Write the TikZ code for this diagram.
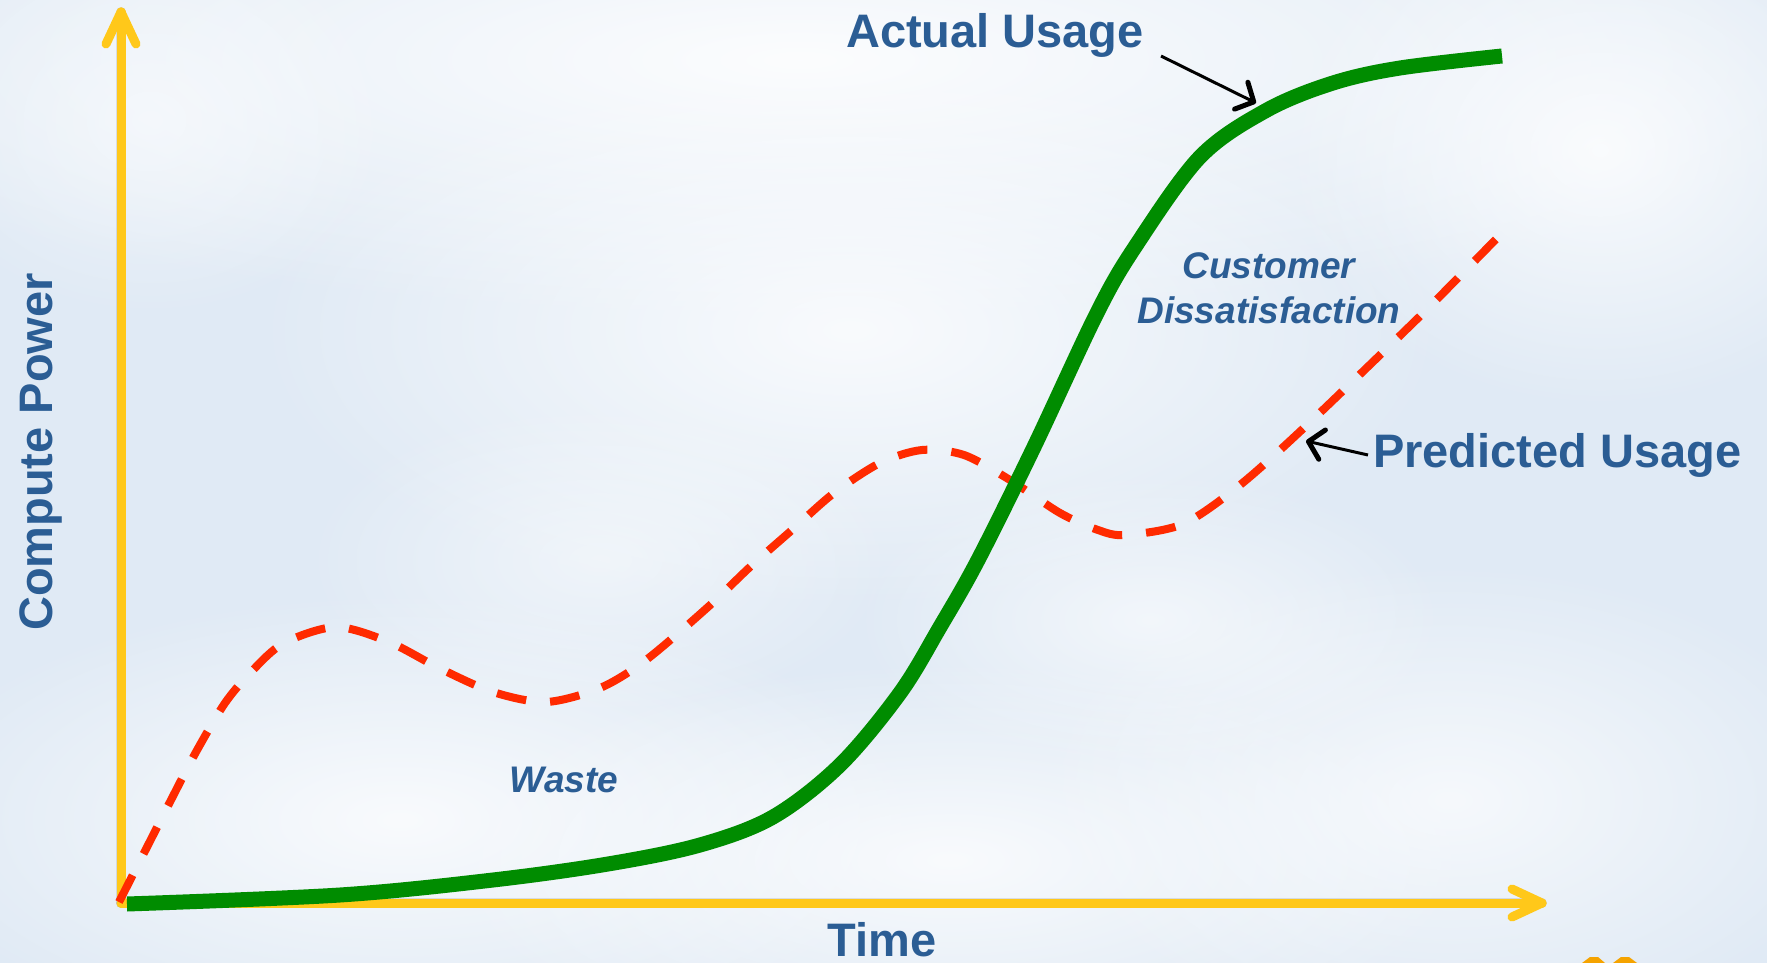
\documentclass[tikz,border=0pt]{standalone}
\usepackage{fontspec}
\setmainfont{Liberation Sans}
\usetikzlibrary{arrows.meta,fadings}
\definecolor{axisyellow}{HTML}{FFC81A}
\definecolor{actgreen}{HTML}{008C00}
\definecolor{predred}{HTML}{FF2A00}
\definecolor{txtblue}{HTML}{2B5D94}
\definecolor{skybg}{HTML}{E0EAF5}
\definecolor{logoorange}{HTML}{F5A300}
\tikzfading[name=cloudfade, inner color=transparent!0, outer color=transparent!100]
\begin{document}
\begin{tikzpicture}[x=1pt,y=-1pt,
  axisline/.style={draw=axisyellow, line width=9pt, line cap=round, line join=round},
  axisshadow/.style={draw=black, opacity=0.10, line width=10pt, line cap=round, line join=round},
  actual/.style={draw=actgreen, line width=15pt},
  predicted/.style={draw=predred, line width=8pt, dash pattern=on 30pt off 24pt},
  lbl/.style={font=\bfseries\fontsize{47}{56}\selectfont, text=txtblue, inner sep=0pt},
  ilbl/.style={font=\bfseries\itshape\fontsize{37}{45}\selectfont, text=txtblue, inner sep=0pt},
  ptr/.style={draw=black, line width=3pt, -{Straight Barb[length=14pt, width=30pt, line width=5pt, round]}},
  cloud/.style={fill=white, path fading=cloudfade}
]
\useasboundingbox (0,0) rectangle (1767,963);
% sky background
\fill[skybg] (0,0) rectangle (1767,963);
\fill[cloud, fill opacity=0.9] (800,60) ellipse (1100 and 260);
\fill[cloud, fill opacity=0.8] (850,330) ellipse (600 and 280);
\fill[cloud, fill opacity=0.8] (400,820) ellipse (520 and 230);
\fill[cloud, fill opacity=0.8] (950,860) ellipse (520 and 200);
\fill[cloud, fill opacity=0.7] (1450,800) ellipse (420 and 240);
\fill[cloud, fill opacity=0.8] (1600,150) ellipse (320 and 260);
\fill[cloud, fill opacity=0.6] (1150,620) ellipse (300 and 150);
\fill[cloud, fill opacity=0.5] (150,120) ellipse (250 and 200);
\fill[cloud, fill opacity=0.5] (600,560) ellipse (300 and 160);

% axes
\coordinate (O) at (121,903);
\coordinate (ytop) at (121,12);
\coordinate (xend) at (1542,903);
\begin{scope}[shift={(3,5)}]
  \draw[axisshadow] (O) -- (ytop);
  \draw[axisshadow] (O) -- (xend);
\end{scope}
\draw[axisline] (O) -- (ytop);
\draw[axisline] ([shift={(-15,32)}]ytop) -- (ytop) -- ([shift={(15,32)}]ytop);
\draw[axisline] (O) -- (xend);
\draw[axisline] ([shift={(-30,-14)}]xend) -- (xend) -- ([shift={(-30,14)}]xend);

% predicted usage (dashed red)
\draw[predicted] plot[smooth, tension=0.5] coordinates {
  (119,902) (144,853) (171,800) (196,752) (225,703) (252,671) (284,643)
  (336,627) (389,642) (439,668) (493,692) (546,702) (600,688) (646,660)
  (708,607) (750,567) (792,530) (834,493) (880,463) (922,450) (964,455)
  (1010,480) (1060,513) (1098,530) (1125,535) (1183,524) (1240,485)
  (1307,425) (1413,323) (1453,283) (1502,233)};

% actual usage (green)
\draw[actual] plot[smooth, tension=0.55] coordinates {
  (127,904) (340,895) (493,880) (608,864) (700,845) (773,817) (840,765)
  (900,693) (940,627) (978,560) (1034,447) (1097,313) (1135,247)
  (1200,157) (1267,110) (1333,83) (1400,68) (1502,56)};

% labels
\node[lbl, anchor=base] (au) at (995,48) {Actual Usage};
\node[lbl, anchor=base west] (pu) at (1373,467) {Predicted Usage};
\node[lbl, anchor=base] (time) at (882,956) {Time};
\node[lbl, anchor=base, rotate=90] (cp) at (52,452) {Compute Power};
\node[ilbl, anchor=base, align=center] (cd) at (1269,323) {Customer\\Dissatisfaction};
\node[ilbl, anchor=base] (waste) at (564,792) {Waste};

% pointers
\coordinate (autail) at (1161,56);
\coordinate (auhead) at (1256,103);
\coordinate (putail) at (1368,455);
\coordinate (puhead) at (1306,441);
\draw[ptr] (autail) -- (auhead);
\draw[ptr] (putail) -- (puhead);

% partial logo marks at the bottom edge
\fill[logoorange] (1582,963) -- (1590,957) -- (1598,957) -- (1605,963) -- cycle;
\fill[logoorange] (1613,963) -- (1621,957) -- (1629,957) -- (1637,963) -- cycle;
\end{tikzpicture}
\end{document}
